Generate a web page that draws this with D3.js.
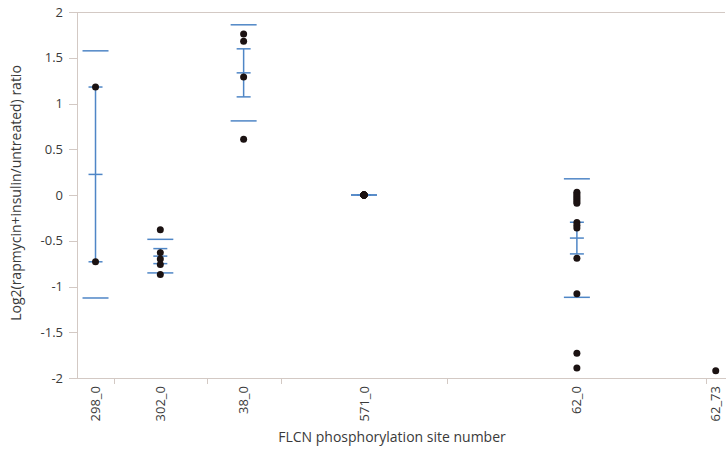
<!DOCTYPE html>
<meta charset="utf-8">
<style>

body {
  margin: 0;
  background: #fff;
}

.axis text {
  font: 13px "Open Sans", sans-serif;
  fill: #3a3a3a;
}

.axis path,
.axis line {
  fill: none;
  stroke: #d3c9c4;
  shape-rendering: crispEdges;
}

.title {
  font: 14px "Open Sans", sans-serif;
  fill: #3a3a3a;
}

.stat {
  stroke: #4f86c6;
  stroke-width: 1.5px;
  fill: none;
}

.dot {
  fill: #1b1212;
}

</style>
<body>
<script src="https://d3js.org/d3.v7.min.js"></script>
<script>

var sites = ["298_0", "302_0", "38_0", "571_0", "62_0", "62_73"];

var ratios = [
  [1.18, -0.73],
  [-0.38, -0.63, -0.70, -0.76, -0.87],
  [1.76, 1.68, 1.29, 0.61],
  [0, 0, 0, 0, 0, 0, 0, 0, 0],
  [0.03, 0.01, -0.01, -0.03, -0.05, -0.07, -0.09, -0.30, -0.33, -0.36, -0.69, -1.08, -1.73, -1.89],
  [-1.92]
];

var yTicks = [-2, -1.5, -1, -0.5, 0, 0.5, 1, 1.5, 2];

var margin = {top: 12, right: 1, bottom: 76, left: 77},
    width = 726 - margin.left - margin.right,
    height = 454 - margin.top - margin.bottom;

// group widths are proportional to group size
var groups = [], start = 0;
sites.forEach(function(s, i) {
  var v = ratios[i],
      n = v.length,
      mean = d3.mean(v),
      sd = n > 1 ? d3.deviation(v) : 0;
  groups.push({site: s, values: v, n: n, start: start, mid: start + n / 2,
               mean: mean, sd: sd, se: sd / Math.sqrt(n)});
  start += n;
});

var x = d3.scaleLinear()
    .domain([0, start])
    .range([0, width]);

var y = d3.scaleLinear()
    .domain([-2, 2])
    .range([height, 0]);

var svg = d3.select("body").append("svg")
    .attr("width", width + margin.left + margin.right)
    .attr("height", height + margin.top + margin.bottom)
  .append("g")
    .attr("transform", "translate(" + margin.left + "," + margin.top + ")");

svg.append("line")
    .attr("x1", 0).attr("x2", width)
    .attr("y1", 0.5).attr("y2", 0.5)
    .style("stroke", "#d3c9c4");

svg.append("g")
    .attr("class", "axis axis--y")
    .call(d3.axisLeft(y).tickValues(yTicks).tickSize(8).tickPadding(6)
      .tickFormat(function(d) { return String(d); }));

var boundaries = groups.slice(1).map(function(g) { return g.start; });

var xAxis = svg.append("g")
    .attr("class", "axis axis--x")
    .attr("transform", "translate(0," + height + ")")
    .call(d3.axisBottom(x).tickValues(boundaries).tickSize(6).tickSizeOuter(0)
      .tickFormat(""));

xAxis.selectAll(".site")
    .data(groups)
  .enter().append("text")
    .attr("class", "site")
    .attr("transform", function(d) { return "translate(" + x(d.mid) + ",8) rotate(-90)"; })
    .attr("dy", "0.35em")
    .style("text-anchor", "end")
    .text(function(d) { return d.site; });

svg.append("text")
    .attr("class", "title")
    .attr("transform", "rotate(-90)")
    .attr("x", -height / 2 + 2)
    .attr("y", -56)
    .style("text-anchor", "middle")
    .text("Log2(rapmycin+insulin/untreated) ratio");

svg.append("text")
    .attr("class", "title")
    .attr("x", 315)
    .attr("y", height + 64)
    .style("text-anchor", "middle")
    .text("FLCN phosphorylation site number");

// mean, error bars and std dev lines
var stats = svg.selectAll(".group")
    .data(groups.filter(function(g) { return g.n > 1; }))
  .enter().append("g")
    .attr("class", "group")
    .attr("transform", function(d) { return "translate(" + x(d.mid) + ",0)"; });

stats.append("line")
    .attr("class", "stat")
    .attr("y1", function(d) { return y(d.mean + d.se); })
    .attr("y2", function(d) { return y(d.mean - d.se); });

[function(d) { return d.mean + d.se; }, function(d) { return d.mean - d.se; }, function(d) { return d.mean; }]
  .forEach(function(f) {
    stats.append("line")
        .attr("class", "stat")
        .attr("x1", -7).attr("x2", 7)
        .attr("y1", function(d) { return y(f(d)); })
        .attr("y2", function(d) { return y(f(d)); });
  });

[function(d) { return d.mean + d.sd; }, function(d) { return d.mean - d.sd; }]
  .forEach(function(f) {
    stats.append("line")
        .attr("class", "stat")
        .attr("x1", -13).attr("x2", 13)
        .attr("y1", function(d) { return y(f(d)); })
        .attr("y2", function(d) { return y(f(d)); });
  });

svg.selectAll(".pts")
    .data(groups)
  .enter().append("g")
    .attr("class", "pts")
  .selectAll(".dot")
    .data(function(g) { return g.values.map(function(v) { return {x: g.mid, v: v}; }); })
  .enter().append("circle")
    .attr("class", "dot")
    .attr("r", 3.5)
    .attr("cx", function(d) { return x(d.x); })
    .attr("cy", function(d) { return y(d.v); });

</script>
